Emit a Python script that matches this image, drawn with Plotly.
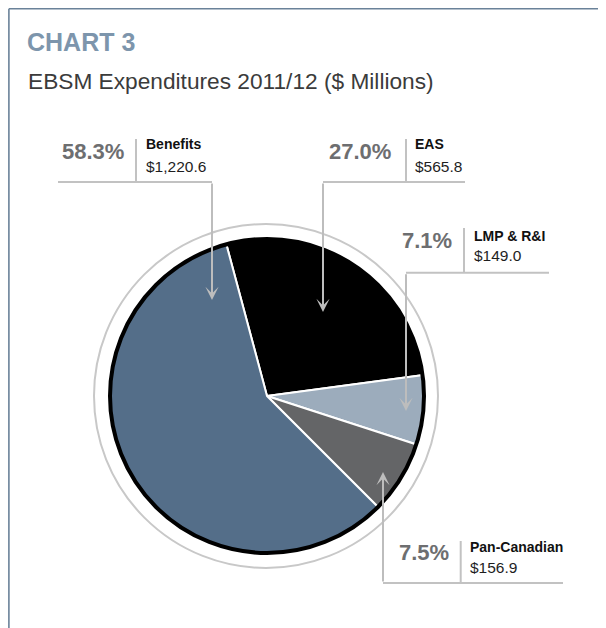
import plotly.graph_objects as go

# EBSM expenditures 2011/12, $ millions
labels = ["EAS", "LMP & R&I", "Pan-Canadian", "Benefits"]
values = [565.8, 149.0, 156.9, 1220.6]
colors = ["#000000", "#9cacbc", "#646567", "#546e89"]

# page has an 8px body margin, so the figure is a bit smaller than the window
OFF = 8
W, H = 598, 620
total = sum(values)
pcts = [f"{v / total * 100:.1f}%" for v in values]
amounts = [f"${v:,.1f}" for v in values]

# callout geometry in window pixels (y from top)
callouts = {
    "Benefits":     dict(hy=182, x0=58, x1=212, sep=136, sep_top=139, ax=212, tip=300, pct_r=126, txt_l=144, pct_y=151.7, name_y=144.3, amt_y=166.2),
    "EAS":          dict(hy=182, x0=323, x1=465, sep=406, sep_top=139, ax=323, tip=312, pct_r=393, txt_l=413, pct_y=151.7, name_y=144.3, amt_y=166.3),
    "LMP & R&I":    dict(hy=272.7, x0=406, x1=549, sep=464, sep_top=228, ax=406, tip=411, pct_r=454, txt_l=472, pct_y=240, name_y=235.5, amt_y=255.5),
    "Pan-Canadian": dict(hy=583, x0=383, x1=563, sep=460.7, sep_top=541, ax=383, tip=472, pct_r=451, txt_l=468, pct_y=552.5, name_y=546.5, amt_y=567),
}

cx, cy, r = 267, 396, 158
SANS = "Liberation Sans, Arial, sans-serif"
LINE = "#c2c2c2"


def px(x):
    return (x - OFF) / W


def py(y):
    return 1 - (y - OFF) / H


fig = go.Figure()
fig.add_trace(go.Pie(
    labels=labels, values=values, sort=False, direction="clockwise", rotation=-15,
    marker=dict(colors=colors, line=dict(color="white", width=2)),
    textinfo="none", hoverinfo="label+value+percent", showlegend=False,
    domain=dict(x=[px(cx - r), px(cx + r)], y=[py(cy + r), py(cy - r)]),
))

shapes = []
# frame
shapes.append(dict(type="line", xref="paper", yref="paper", x0=0.0015, x1=1, y0=py(OFF + 0.8), y1=py(OFF + 0.8),
                   line=dict(color="#6a8299", width=1.6)))
shapes.append(dict(type="line", xref="paper", yref="paper", x0=0.0015, x1=0.0015, y0=py(OFF + 0.8), y1=0,
                   line=dict(color="#6a8299", width=1.6)))
# black rim and grey outer ring
shapes.append(dict(type="circle", xref="paper", yref="paper", x0=px(cx - 157), x1=px(cx + 157),
                   y0=py(cy + 157), y1=py(cy - 157), line=dict(color="black", width=4)))
shapes.append(dict(type="circle", xref="paper", yref="paper", x0=px(266 - 172), x1=px(266 + 172),
                   y0=py(396 + 172), y1=py(396 - 172), line=dict(color="#c8c8c8", width=2)))

annotations = [
    dict(text="<b>CHART 3</b>", x=px(24.5), y=py(42), xanchor="left", yanchor="middle",
         font=dict(family=SANS, size=25, color="#7d95ac")),
    dict(text="EBSM Expenditures 2011/12 ($ Millions)", x=px(25.5), y=py(81), xanchor="left", yanchor="middle",
         font=dict(family=SANS, size=22.7, color="#3b3b3b")),
]

for lab, pct, amt in zip(labels, pcts, amounts):
    c = callouts[lab]
    shapes.append(dict(type="line", xref="paper", yref="paper", x0=px(c["x0"]), x1=px(c["x1"]),
                       y0=py(c["hy"]), y1=py(c["hy"]), line=dict(color=LINE, width=2)))
    shapes.append(dict(type="line", xref="paper", yref="paper", x0=px(c["sep"]), x1=px(c["sep"]),
                       y0=py(c["sep_top"]), y1=py(c["hy"]), line=dict(color=LINE, width=2)))
    annotations.append(dict(text="", x=px(c["ax"]), y=py(c["tip"]), xref="paper", yref="paper",
                            showarrow=True, ax=0, ay=c["hy"] - c["tip"], arrowhead=3, arrowsize=1.1,
                            arrowwidth=2, arrowcolor="#bdbdbd", standoff=0))
    annotations.append(dict(text=f"<b>{pct}</b>", x=px(c["pct_r"]), y=py(c["pct_y"]), xanchor="right",
                            yanchor="middle", font=dict(family=SANS, size=22, color="#6d6e70")))
    annotations.append(dict(text=f"<b>{lab.replace('&', '&amp;')}</b>", x=px(c["txt_l"]), y=py(c["name_y"]),
                            xanchor="left", yanchor="middle", font=dict(family=SANS, size=14, color="#111111")))
    annotations.append(dict(text=amt, x=px(c["txt_l"]), y=py(c["amt_y"]), xanchor="left",
                            yanchor="middle", font=dict(family=SANS, size=15.5, color="#1e1e1e")))

for a in annotations:
    a.setdefault("xref", "paper")
    a.setdefault("yref", "paper")
    a.setdefault("showarrow", False)

fig.update_layout(
    width=W, height=H, margin=dict(l=0, r=0, t=0, b=0),
    paper_bgcolor="white", plot_bgcolor="white",
    shapes=shapes, annotations=annotations,
)

fig.write_html("out.html")
